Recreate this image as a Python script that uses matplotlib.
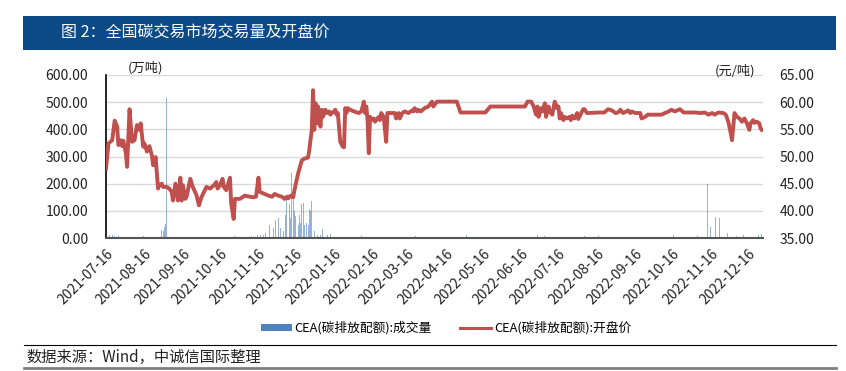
import numpy as np
import pandas as pd
import matplotlib
matplotlib.use("Agg")
import matplotlib.pyplot as plt
import matplotlib.dates as mdates
from matplotlib.patches import Rectangle, Patch
from matplotlib.lines import Line2D

plt.rcParams['font.family'] = ['Noto Sans CJK SC', 'DejaVu Sans']

title = "图 2：全国碳交易市场交易量及开盘价"
source = "数据来源：Wind，中诚信国际整理"
vol_label = "CEA(碳排放配额):成交量"
price_label = "CEA(碳排放配额):开盘价"

# opening price, yuan/t
price_dates = [
    "2021-07-16", "2021-07-18", "2021-07-21", "2021-07-23", "2021-07-25", "2021-07-26",
    "2021-07-28", "2021-07-29", "2021-07-30", "2021-08-01", "2021-08-02", "2021-08-04",
    "2021-08-06", "2021-08-08", "2021-08-10", "2021-08-12", "2021-08-13", "2021-08-15",
    "2021-08-16", "2021-08-18", "2021-08-20", "2021-08-22", "2021-08-23", "2021-08-24",
    "2021-08-25", "2021-08-27", "2021-08-28", "2021-08-30", "2021-08-31", "2021-09-03",
    "2021-09-05", "2021-09-07", "2021-09-08", "2021-09-10", "2021-09-12", "2021-09-14",
    "2021-09-15", "2021-09-16", "2021-09-18", "2021-09-19", "2021-09-22", "2021-09-24",
    "2021-09-27", "2021-09-29", "2021-10-01", "2021-10-05", "2021-10-08", "2021-10-11",
    "2021-10-13", "2021-10-14", "2021-10-16", "2021-10-18", "2021-10-19", "2021-10-21",
    "2021-10-24", "2021-10-25", "2021-10-27", "2021-10-28", "2021-11-01", "2021-11-05",
    "2021-11-09", "2021-11-12", "2021-11-14", "2021-11-16", "2021-11-17", "2021-11-20",
    "2021-11-23", "2021-11-24", "2021-11-27", "2021-11-29", "2021-12-02", "2021-12-05",
    "2021-12-07", "2021-12-09", "2021-12-10", "2021-12-12", "2021-12-14", "2021-12-15",
    "2021-12-18", "2021-12-21", "2021-12-23", "2021-12-26", "2021-12-27", "2021-12-29",
    "2021-12-30", "2021-12-31", "2022-01-01", "2022-01-02", "2022-01-03", "2022-01-05",
    "2022-01-06", "2022-01-07", "2022-01-09", "2022-01-10", "2022-01-12", "2022-01-13",
    "2022-01-14", "2022-01-16", "2022-01-17", "2022-01-18", "2022-01-19", "2022-01-21",
    "2022-01-23", "2022-01-24", "2022-01-25", "2022-01-26", "2022-01-27", "2022-01-29",
    "2022-02-01", "2022-02-05", "2022-02-07", "2022-02-09", "2022-02-10", "2022-02-11",
    "2022-02-12", "2022-02-13", "2022-02-14", "2022-02-15", "2022-02-17", "2022-02-18",
    "2022-02-21", "2022-02-22", "2022-02-23", "2022-02-25", "2022-02-27", "2022-02-28",
    "2022-03-03", "2022-03-06", "2022-03-07", "2022-03-09", "2022-03-10", "2022-03-12",
    "2022-03-14", "2022-03-17", "2022-03-20", "2022-03-21", "2022-03-22", "2022-03-24",
    "2022-03-25", "2022-03-27", "2022-03-28", "2022-03-30", "2022-04-02", "2022-04-05",
    "2022-04-06", "2022-04-09", "2022-04-25", "2022-04-28", "2022-05-18", "2022-05-22",
    "2022-06-19", "2022-06-21", "2022-06-24", "2022-06-26", "2022-06-28", "2022-06-29",
    "2022-06-30", "2022-07-02", "2022-07-03", "2022-07-05", "2022-07-06", "2022-07-08",
    "2022-07-09", "2022-07-11", "2022-07-13", "2022-07-15", "2022-07-16", "2022-07-17",
    "2022-07-18", "2022-07-20", "2022-07-21", "2022-07-23", "2022-07-25", "2022-07-26",
    "2022-07-27", "2022-07-29", "2022-07-31", "2022-08-01", "2022-08-04", "2022-08-05",
    "2022-08-06", "2022-08-08", "2022-08-18", "2022-08-22", "2022-08-25", "2022-08-28",
    "2022-08-31", "2022-09-02", "2022-09-04", "2022-09-06", "2022-09-09", "2022-09-10",
    "2022-09-12", "2022-09-13", "2022-09-16", "2022-09-20", "2022-09-21", "2022-09-24",
    "2022-09-26", "2022-10-02", "2022-10-07", "2022-10-10", "2022-10-13", "2022-10-15",
    "2022-10-18", "2022-10-22", "2022-10-25", "2022-11-03", "2022-11-08", "2022-11-11",
    "2022-11-14", "2022-11-17", "2022-11-19", "2022-11-22", "2022-11-26", "2022-11-28",
    "2022-11-30", "2022-12-02", "2022-12-03", "2022-12-05", "2022-12-07", "2022-12-09",
    "2022-12-11", "2022-12-13", "2022-12-15", "2022-12-17", "2022-12-18", "2022-12-20",
    "2022-12-21", "2022-12-23", "2022-12-25", "2022-12-26", "2022-12-27",
]
price = [
    47.8, 52.4, 53.0, 56.6, 55.5, 52.1,
    53.0, 51.9, 52.9, 50.6, 48.1, 58.7,
    52.7, 53.0, 55.8, 54.9, 56.1, 51.8,
    52.4, 50.9, 51.9, 50.2, 48.4, 48.7,
    49.9, 44.1, 44.7, 45.0, 44.4, 44.4,
    44.1, 43.5, 41.9, 45.0, 41.9, 46.1,
    41.9, 44.7, 42.2, 42.6, 45.9, 44.4,
    42.9, 41.0, 42.5, 44.4, 44.1, 44.7,
    45.3, 44.1, 44.7, 45.9, 44.4, 43.8,
    46.1, 41.3, 38.5, 42.2, 42.2, 42.8,
    42.6, 42.5, 42.6, 46.1, 43.5, 43.2,
    42.9, 42.8, 42.6, 43.1, 42.8, 42.6,
    42.2, 42.6, 42.3, 42.8, 42.5, 43.8,
    46.9, 49.3, 49.6, 49.8, 51.2, 54.9,
    62.2, 54.9, 59.8, 56.1, 59.2, 55.5,
    58.6, 57.3, 58.6, 58.0, 58.3, 57.7,
    58.0, 58.3, 58.6, 57.7, 58.0, 52.7,
    51.8, 51.7, 58.9, 58.0, 58.9, 58.6,
    58.3, 58.0, 58.3, 60.1, 58.0, 59.2,
    56.7, 50.6, 57.3, 56.7, 57.0, 56.4,
    57.3, 56.7, 58.0, 57.3, 52.7, 58.0,
    58.0, 58.0, 57.0, 58.0, 57.0, 58.0,
    58.3, 58.0, 58.5, 58.3, 58.9, 58.3,
    58.6, 58.3, 58.5, 58.9, 59.2, 60.1,
    59.2, 60.1, 60.1, 58.1, 58.1, 59.2,
    59.2, 60.1, 60.1, 59.2, 57.7, 59.2,
    57.3, 58.9, 58.3, 59.8, 57.3, 59.2,
    58.3, 57.7, 60.1, 58.9, 59.2, 57.0,
    58.0, 56.7, 57.3, 57.0, 57.3, 56.7,
    57.5, 57.0, 58.0, 56.9, 58.3, 58.7,
    58.7, 58.0, 58.1, 58.1, 58.7, 58.5,
    58.0, 58.1, 58.6, 58.0, 58.3, 58.5,
    58.0, 58.3, 58.0, 58.0, 57.0, 57.3,
    57.7, 57.7, 57.7, 58.0, 58.3, 58.6,
    58.3, 58.7, 58.1, 58.1, 58.0, 58.1,
    57.7, 58.0, 57.7, 58.1, 58.0, 57.7,
    56.4, 54.3, 53.0, 58.0, 57.3, 57.0,
    56.4, 57.0, 56.1, 54.9, 56.1, 56.7,
    56.2, 56.4, 56.1, 55.2, 54.9,
]

# trading volume, 10k tonnes
vol_dates = [
    "2021-07-16", "2021-07-19", "2021-07-21", "2021-07-23", "2021-07-26", "2021-08-15",
    "2021-08-30", "2021-08-31", "2021-09-01", "2021-09-02", "2021-09-03", "2021-09-20",
    "2021-10-15", "2021-10-28", "2021-11-03", "2021-11-10", "2021-11-15", "2021-11-18",
    "2021-11-20", "2021-11-22", "2021-11-25", "2021-11-28", "2021-11-30", "2021-12-02",
    "2021-12-04", "2021-12-06", "2021-12-08", "2021-12-09", "2021-12-11", "2021-12-12",
    "2021-12-13", "2021-12-14", "2021-12-15", "2021-12-16", "2021-12-18", "2021-12-19",
    "2021-12-20", "2021-12-21", "2021-12-22", "2021-12-23", "2021-12-25", "2021-12-26",
    "2021-12-27", "2021-12-28", "2021-12-29", "2021-12-31", "2022-01-03", "2022-01-05",
    "2022-01-07", "2022-01-11", "2022-01-13", "2022-02-07", "2022-02-21", "2022-03-23",
    "2022-03-31", "2022-05-03", "2022-06-29", "2022-07-05", "2022-07-11", "2022-07-27",
    "2022-08-06", "2022-08-17", "2022-10-17", "2022-11-05", "2022-11-13", "2022-11-16",
    "2022-11-20", "2022-11-23", "2022-11-29", "2022-12-07", "2022-12-12", "2022-12-24",
    "2022-12-27",
]
volume = [
    410, 12, 10, 8, 6, 8,
    30, 25, 40, 50, 516, 4,
    5, 6, 5, 8, 10, 12,
    12, 20, 49, 37, 68, 74,
    37, 25, 86, 142, 124, 74,
    241, 148, 99, 80, 49, 86,
    56, 124, 130, 49, 56, 49,
    105, 99, 136, 25, 12, 10,
    33, 10, 15, 6, 5, 6,
    5, 10, 12, 6, 5, 5,
    6, 6, 12, 6, 198, 40,
    77, 72, 17, 7, 10, 12,
    15,
]

vol_ticks = [0, 100, 200, 300, 400, 500, 600]
price_ticks = [35, 40, 45, 50, 55, 60, 65]
x_ticks = pd.date_range("2021-07-01", "2022-12-01", freq="MS") + pd.Timedelta(days=15)
x_start, x_end = pd.Timestamp("2021-07-16"), pd.Timestamp("2022-12-28")

blue = "#4f81bd"
red = "#c0504d"

fig = plt.figure(figsize=(8.46, 3.71), dpi=100)

# title banner
fig.patches.append(Rectangle((23 / 846, 1 - 50 / 371), (836 - 23) / 846, 34 / 371,
                             transform=fig.transFigure, facecolor="#0b4a87",
                             edgecolor="none", zorder=0))
fig.text(61 / 846, 1 - 33 / 371, title, color="white", fontsize=11.5,
         va="center", ha="left")

ax = fig.add_axes([106 / 846, 1 - 238 / 371, (763 - 106) / 846, (238 - 75) / 371])
ax2 = ax.twinx()

ax.bar(pd.to_datetime(vol_dates), volume, width=0.8, color=blue, alpha=0.6,
       linewidth=0, zorder=2)
ax2.plot(pd.to_datetime(price_dates), price, color=red, lw=2.8,
         solid_joinstyle="round", zorder=3)

ax.set_ylim(0, 600)
ax.set_yticks(vol_ticks)
ax.set_yticklabels([f"{v:.2f}" for v in vol_ticks])
ax2.set_ylim(35, 65)
ax2.set_yticks(price_ticks)
ax2.set_yticklabels([f"{v:.2f}" for v in price_ticks])
ax.set_xlim(x_start, x_end)
ax.set_xticks(x_ticks)
ax.xaxis.set_major_formatter(mdates.DateFormatter("%Y-%m-%d"))
plt.setp(ax.get_xticklabels(), rotation=45, ha="right", rotation_mode="anchor")

ax.grid(axis="y", color="#d9d9d9", lw=1, zorder=0)
ax.set_axisbelow(True)
ax.tick_params(axis="y", length=0, pad=13, labelsize=10, labelcolor="#222222")
ax.tick_params(axis="x", length=0, pad=6, labelsize=10, labelcolor="#222222")
ax2.tick_params(axis="y", length=0, pad=12, labelsize=10, labelcolor="#222222")
for a in (ax, ax2):
    a.spines["top"].set_visible(False)
    a.spines["right"].set_visible(False)
ax2.spines["left"].set_visible(False)
ax2.spines["bottom"].set_visible(False)
ax.spines["left"].set_color("black")
ax.spines["left"].set_linewidth(1.2)
ax.spines["bottom"].set_color("#555555")
ax.spines["bottom"].set_linewidth(1.5)

fig.text(145 / 846, 1 - 68 / 371, "(万吨)", fontsize=9.5, ha="center", va="center",
         color="#222222")
fig.text(735 / 846, 1 - 71 / 371, "(元/吨)", fontsize=9.5, ha="center", va="center",
         color="#222222")

handles = [Patch(facecolor=blue, edgecolor="none"),
           Line2D([0], [0], color=red, lw=2.2)]
fig.legend(handles, [vol_label, price_label], loc="center",
           bbox_to_anchor=(446 / 846, 1 - 328 / 371), ncol=2, frameon=False,
           fontsize=9.2, handlelength=2.4, handleheight=0.5, handletextpad=0.25,
           columnspacing=2.2)

# footer rules and source
fig.add_artist(Line2D([24 / 846, 836 / 846], [1 - 345 / 371] * 2, color="black", lw=0.8))
fig.add_artist(Line2D([24 / 846, 836 / 846], [1 - 368 / 371] * 2, color="#808080", lw=2))
fig.text(26 / 846, 1 - 357 / 371, source, fontsize=11, ha="left", va="center",
         color="#222222")

fig.savefig("out.png", dpi=100)
